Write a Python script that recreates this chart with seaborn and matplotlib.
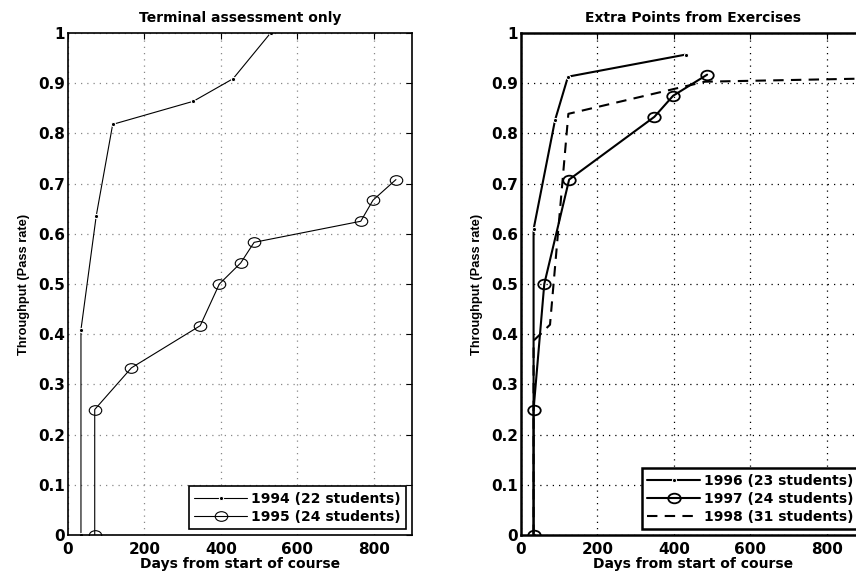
import seaborn as sns
import matplotlib.pyplot as plt
import pandas as pd
from matplotlib.path import Path
from matplotlib.transforms import Affine2D

# Days from start of course vs. pass rate
days_1994 = [34, 34, 74, 117, 328, 432, 530]
rate_1994 = [0, 0.409, 0.636, 0.818, 0.864, 0.909, 1.0]

days_1995 = [70, 70, 166, 346, 396, 452, 487, 766, 798, 858]
rate_1995 = [0, 0.25, 0.333, 0.417, 0.5, 0.542, 0.583, 0.625, 0.667, 0.708]

days_1996 = [33, 33, 89, 123, 431]
rate_1996 = [0, 0.609, 0.826, 0.913, 0.957]

days_1997 = [33, 33, 61, 126, 349, 398, 487]
rate_1997 = [0, 0.25, 0.5, 0.708, 0.833, 0.875, 0.917]

days_1998 = [33, 33, 76, 124, 481, 950]
rate_1998 = [0, 0.387, 0.419, 0.839, 0.903, 0.91]

labels = {
    1994: "1994 (22 students)",
    1995: "1995 (24 students)",
    1996: "1996 (23 students)",
    1997: "1997 (24 students)",
    1998: "1998 (31 students)",
}

sns.set_style("white")
plt.rcParams["font.family"] = ["DejaVu Sans"]
plt.rcParams["font.weight"] = "bold"
plt.rcParams["text.color"] = "black"
plt.rcParams["axes.labelcolor"] = "black"

# the original is stretched sideways, so the circles are a bit wide
ellipse = Path.unit_circle().transformed(Affine2D().scale(1.3, 1.0))

fig = plt.figure(figsize=(8.56, 5.73), dpi=100)
ax1 = fig.add_axes([0.0794, 0.0663, 0.4019, 0.8761])
ax2 = fig.add_axes([0.6086, 0.0663, 0.4019, 0.8761])


def draw(ax, x, y, label, lw, **kws):
    df = pd.DataFrame({"x": x, "y": y})
    sns.lineplot(data=df, x="x", y="y", sort=False, estimator=None,
                 color="black", linewidth=lw, label=label, ax=ax, **kws)


# Left panel: terminal assessment only
draw(ax1, days_1994, rate_1994, labels[1994], 0.8,
     marker="o", markersize=3)
draw(ax1, days_1995, rate_1995, labels[1995], 0.8,
     marker=ellipse, markersize=9, markerfacecolor="none",
     markeredgecolor="black", markeredgewidth=0.8)

# Right panel: extra points from exercises
draw(ax2, days_1996, rate_1996, labels[1996], 1.5,
     marker="o", markersize=3)
draw(ax2, days_1997, rate_1997, labels[1997], 1.5,
     marker=ellipse, markersize=9, markerfacecolor="none",
     markeredgecolor="black", markeredgewidth=1.3)
draw(ax2, days_1998, rate_1998, labels[1998], 1.5,
     dashes=(5, 3.5))

titles = ["Terminal assessment only", "Extra Points from Exercises"]
for ax, title, gcol, slw in [(ax1, titles[0], "#888888", 1.2),
                             (ax2, titles[1], "black", 1.8)]:
    ax.set_xlim(0, 900)
    ax.set_ylim(0, 1)
    ax.set_xticks([0, 200, 400, 600, 800])
    ax.set_yticks([i / 10 for i in range(11)])
    ax.set_yticklabels(["0"] + [f"0.{i}" for i in range(1, 10)] + ["1"])
    ax.tick_params(direction="in", top=True, right=True, length=4,
                   labelsize=11, pad=2, colors="black")
    ax.tick_params(axis="x", pad=5)
    for lab in ax.get_xticklabels() + ax.get_yticklabels():
        lab.set_fontweight("bold")
    ax.grid(True, linestyle=(0, (1, 4)), color=gcol, linewidth=0.9)
    for spine in ax.spines.values():
        spine.set_visible(True)
        spine.set_color("black")
        spine.set_linewidth(slw)
    ax.set_title(title, fontsize=10, fontweight="bold", pad=8)
    ax.set_xlabel("Days from start of course", fontsize=10,
                  fontweight="bold", labelpad=0)
    ax.set_ylabel("Throughput (Pass rate)", fontsize=9.3, fontweight="bold",
                  family=["Liberation Sans", "DejaVu Sans"], labelpad=6)
    leg = ax.legend(loc="lower right", fontsize=10, handlelength=3.8,
                    fancybox=False, framealpha=1, edgecolor="black",
                    borderpad=0.4, labelspacing=0.3, handletextpad=0.3,
                    borderaxespad=0.4)
    leg.get_frame().set_linewidth(slw)
    for t in leg.get_texts():
        t.set_fontweight("bold")

fig.savefig("out.png", dpi=100)
